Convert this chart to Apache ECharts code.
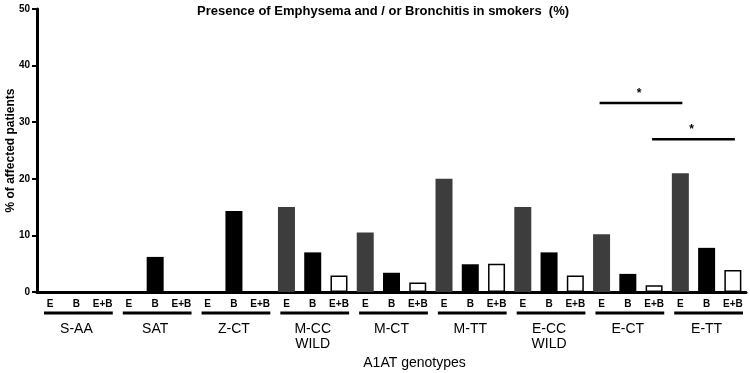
<!DOCTYPE html>
<html>
<head>
<meta charset="utf-8">
<script src="https://cdn.jsdelivr.net/npm/echarts@6/dist/echarts.min.js"></script>
<style>html,body{margin:0;padding:0;background:#fff;}#c{width:750px;height:373px;}</style>
</head>
<body>
<div id="c"></div>
<script>
const groups = ['S-AA','SAT','Z-CT','M-CC\nWILD','M-CT','M-TT','E-CC\nWILD','E-CT','E-TT'];
const subLabels = ['E','B','E+B'];
const eVals  = [0, 0,   0,    15.0, 10.5, 20.0, 15.0, 10.2, 21.0];
const bVals  = [0, 6.2, 14.3, 7.0,  3.4,  4.9,  7.0,  3.2,  7.8];
const ebVals = [0, 0,   0,    2.9,  1.7,  5.0,  2.9,  1.2,  3.9];
// significance brackets: [from category index, to category index, height (%)]
const brackets = [[21, 24, 33.4], [23, 26, 27.0]];
const yTicks = [0, 10, 20, 30, 40, 50];

const FONT = '"Liberation Sans", Arial, sans-serif';
const cats = [];
const sE = [], sB = [], sEB = [];
groups.forEach((g, gi) => {
  subLabels.forEach((s, si) => {
    cats.push(g + '|' + s);
    sE.push(si === 0 ? eVals[gi] : '-');
    sB.push(si === 1 ? bVals[gi] : '-');
    sEB.push(si === 2 ? ebVals[gi] : '-');
  });
});
const groupSpans = groups.map((g, gi) => [gi * 3, gi * 3 + 3]);
const bracketData = brackets.map(b => [b[0] + 0.5, b[1] + 0.5, b[2]]);

const chart = echarts.init(document.getElementById('c'), null, {renderer: 'canvas'});
chart.setOption({
  animation: false,
  backgroundColor: '#fff',
  textStyle: {fontFamily: FONT},
  title: {
    text: 'Presence of Emphysema and / or Bronchitis in smokers  (%)',
    left: 192, top: 0,
    textStyle: {fontFamily: FONT, fontSize: 13, fontWeight: 'bold', color: '#000'}
  },
  grid: {left: 37, right: 4, top: 9, bottom: 81, containLabel: false, outerBoundsMode: 'none'},
  xAxis: [
    {
      type: 'category', data: cats, boundaryGap: true,
      axisLine: {lineStyle: {color: '#000', width: 3}},
      axisTick: {alignWithLabel: true, length: 5, lineStyle: {color: '#000', width: 2}},
      axisLabel: {formatter: v => v.split('|')[1], color: '#000', fontSize: 10, fontWeight: 'bold', fontFamily: FONT, margin: 7, interval: 0},
      name: 'A1AT genotypes', nameLocation: 'middle', nameGap: 64, nameMoveOverlap: false,
      nameTextStyle: {fontFamily: FONT, fontSize: 14, color: '#000', padding: [0, 0, 0, 46]}
    },
    {
      type: 'category', data: groups, position: 'bottom', offset: 27,
      axisLine: {show: false}, axisTick: {show: false},
      axisLabel: {color: '#000', fontSize: 14, fontFamily: FONT, margin: 3, lineHeight: 15, interval: 0}
    },
    {type: 'value', min: 0, max: 27, show: false}
  ],
  yAxis: {
    type: 'value', min: 0, max: 50, interval: 10,
    axisLine: {show: true, lineStyle: {color: '#000', width: 3}},
    axisTick: {show: true, length: 5, lineStyle: {color: '#000', width: 2}},
    axisLabel: {color: '#000', fontSize: 10, fontWeight: 'bold', fontFamily: FONT, margin: 7,
      formatter: v => yTicks.includes(v) ? String(v) : ''},
    splitLine: {show: false},
    name: '% of affected patients', nameLocation: 'middle', nameGap: 20, nameMoveOverlap: false,
    nameTextStyle: {fontFamily: FONT, fontSize: 12, fontWeight: 'bold', color: '#000'}
  },
  series: [
    {type: 'bar', xAxisIndex: 0, data: sE, barWidth: 17, barGap: '-100%',
      itemStyle: {color: '#3d3d3d'}},
    {type: 'bar', xAxisIndex: 0, data: sB, barWidth: 17, barGap: '-100%',
      itemStyle: {color: '#000'}},
    {type: 'bar', xAxisIndex: 0, data: sEB, barWidth: 17, barGap: '-100%',
      itemStyle: {color: '#fff', borderColor: '#000', borderWidth: 1.5}},
    {
      type: 'custom', xAxisIndex: 2, yAxisIndex: 0, clip: false, silent: true,
      data: groupSpans,
      renderItem: (params, api) => {
        const p1 = api.coord([api.value(0), 0]);
        const p2 = api.coord([api.value(1), 0]);
        const y = p1[1] + 21;
        return {type: 'line', shape: {x1: p1[0] + 7, y1: y, x2: p2[0] - 3, y2: y},
          style: {stroke: '#000', lineWidth: 3}};
      }
    },
    {
      type: 'custom', xAxisIndex: 2, yAxisIndex: 0, clip: false, silent: true,
      data: bracketData,
      renderItem: (params, api) => {
        const p1 = api.coord([api.value(0), api.value(2)]);
        const p2 = api.coord([api.value(1), api.value(2)]);
        return {type: 'group', children: [
          {type: 'line', shape: {x1: p1[0] - 2, y1: p1[1], x2: p2[0] + 2, y2: p1[1]},
            style: {stroke: '#000', lineWidth: 2.5}},
          {type: 'text', style: {text: '*', x: (p1[0] + p2[0]) / 2 - 2, y: p1[1] - 3,
            align: 'center', verticalAlign: 'bottom', fill: '#000', font: 'bold 12px ' + FONT}}
        ]};
      }
    }
  ]
});
</script>
</body>
</html>
